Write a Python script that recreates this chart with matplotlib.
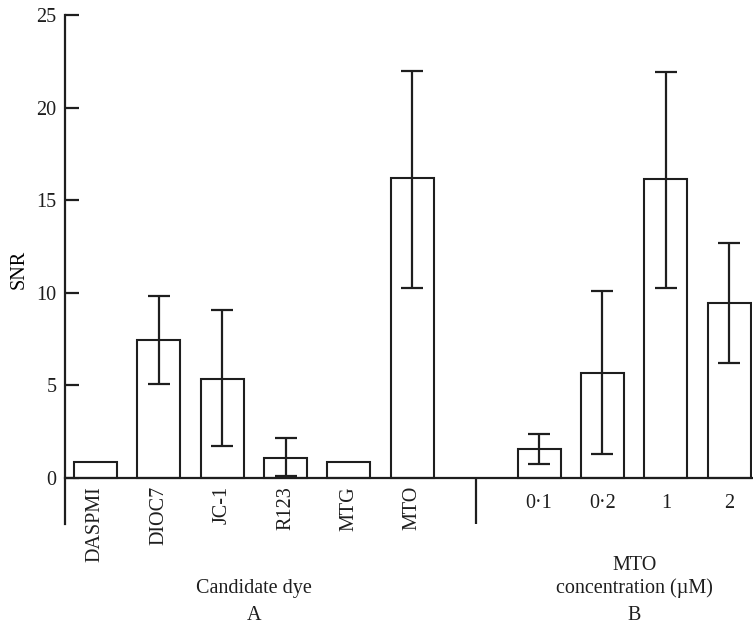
import numpy as np
import matplotlib.pyplot as plt
from matplotlib.transforms import blended_transform_factory

plt.rcParams["font.family"] = ["Liberation Serif", "DejaVu Serif"]
plt.rcParams["font.size"] = 14.5

# panel A: candidate dyes
dyes = ["DASPMI", "DIOC7", "JC-1", "R123", "MTG", "MTO"]
dye_snr = [0.85, 7.42, 5.35, 1.08, 0.85, 16.2]
dye_low = [np.nan, 5.06, 1.73, 0.07, np.nan, 10.27]
dye_high = [np.nan, 9.80, 9.04, 2.16, np.nan, 21.96]

# panel B: MTO concentration (uM)
conc = ["0·1", "0·2", "1", "2"]
conc_snr = [1.57, 5.68, 16.15, 9.44]
conc_low = [0.76, 1.26, 10.27, 6.20]
conc_high = [2.38, 10.10, 21.90, 12.69]

y_ticks = [0, 5, 10, 15, 20, 25]

ink = "#1e1e1e"

x_a = np.arange(len(dyes))
x_b = np.arange(len(conc)) + len(dyes) + 1
divider = len(dyes)

fig = plt.figure(figsize=(7.53, 6.25), dpi=100)
ax = fig.add_axes([0.0863, 0.1616, 0.9124, 0.8144])

for xs, vals, lo, hi in [(x_a, dye_snr, dye_low, dye_high),
                         (x_b, conc_snr, conc_low, conc_high)]:
    vals = np.array(vals)
    ax.bar(xs, vals, width=0.68, facecolor="white", edgecolor=ink,
           linewidth=1.5, zorder=2)
    lo = np.array(lo)
    hi = np.array(hi)
    ok = ~np.isnan(lo)
    yerr = np.vstack([vals[ok] - lo[ok], hi[ok] - vals[ok]])
    ax.errorbar(xs[ok], vals[ok], yerr=yerr, fmt="none", ecolor=ink,
                elinewidth=1.6, capsize=8, capthick=1.6, zorder=3)

ax.set_xlim(-0.48, 10.36)
ax.set_ylim(-2.5, 25)
ax.set_yticks(y_ticks)
ax.tick_params(axis="y", direction="in", length=10, width=1.6, pad=6,
               colors=ink)

ax.spines["top"].set_visible(False)
ax.spines["right"].set_visible(False)
ax.spines["left"].set_linewidth(1.6)
ax.spines["left"].set_color(ink)
ax.spines["bottom"].set_position(("data", 0))
ax.spines["bottom"].set_linewidth(1.6)
ax.spines["bottom"].set_color(ink)
ax.vlines(divider, -2.5, 0, color=ink, linewidth=1.6, clip_on=False)

ax.set_xticks(list(x_a) + list(x_b))
ax.set_xticklabels(dyes + conc)
ax.tick_params(axis="x", length=0, pad=6, colors=ink)
ticks = ax.xaxis.get_major_ticks()
for tick in ticks[:len(dyes)]:
    tick.label1.set_rotation(90)
    tick.label1.set_va("top")
for tick in ticks[len(dyes):]:
    tick.set_pad(12)

ax.set_ylabel("SNR", labelpad=6)

trans = blended_transform_factory(ax.transData, fig.transFigure)
ax.text(x_a.mean(), 0.059, "Candidate dye", transform=trans,
        ha="center", va="center", color=ink)
ax.text(x_a.mean(), 0.016, "A", transform=trans,
        ha="center", va="center", color=ink)
ax.text(x_b.mean(), 0.096, "MTO", transform=trans,
        ha="center", va="center", color=ink)
ax.text(x_b.mean(), 0.059, "concentration (µM)", transform=trans,
        ha="center", va="center", color=ink)
ax.text(x_b.mean(), 0.016, "B", transform=trans,
        ha="center", va="center", color=ink)

fig.savefig("out.png", dpi=100)
